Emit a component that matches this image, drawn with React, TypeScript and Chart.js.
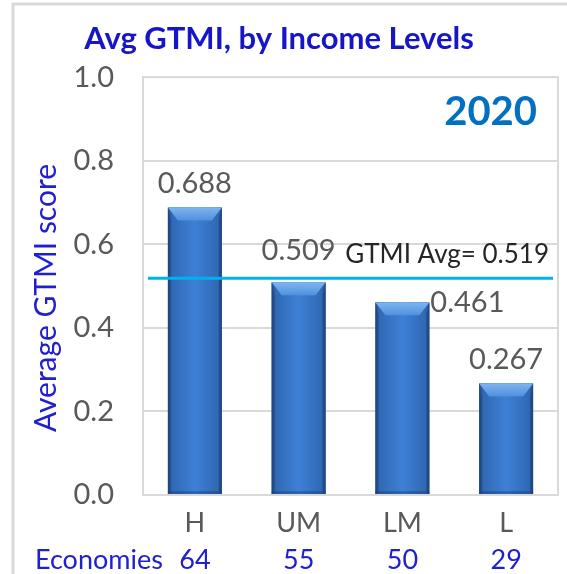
import React, { useEffect, useRef } from "react";
import { Chart, registerables } from "chart.js";

Chart.register(...registerables);

const categories = ["H", "UM", "LM", "L"];
const avgScores = [0.688, 0.509, 0.461, 0.267];
const economies = [64, 55, 50, 29];
const overallAvg = 0.519;
const yearLabel = "2020";
const yTicks = [0.0, 0.2, 0.4, 0.6, 0.8, 1.0];

const FONT = "Lato, 'Open Sans', sans-serif";
const GRAY = "#595959";
const BLUE_TEXT = "#2020d0";

const decorPlugin = {
  id: "decor",
  beforeDraw(chart: any) {
    const { ctx } = chart;
    ctx.save();
    ctx.fillStyle = "#ffffff";
    ctx.fillRect(0, 0, chart.width, chart.height);
    ctx.strokeStyle = "#d9d9d9";
    ctx.lineWidth = 3;
    ctx.beginPath();
    ctx.moveTo(13, chart.height);
    ctx.lineTo(13, 4);
    ctx.lineTo(chart.width, 4);
    ctx.stroke();
    ctx.restore();
  },
  beforeDatasetsDraw(chart: any) {
    const { ctx, chartArea } = chart;
    ctx.save();
    ctx.strokeStyle = "#d9d9d9";
    ctx.lineWidth = 2;
    ctx.strokeRect(chartArea.left, chartArea.top, chartArea.right - chartArea.left, chartArea.bottom - chartArea.top);
    ctx.restore();
  },
  afterDatasetsDraw(chart: any) {
    const { ctx, chartArea } = chart;
    const meta = chart.getDatasetMeta(0);
    const yScale = chart.scales.y;
    ctx.save();
    meta.data.forEach((bar: any, i: number) => {
      const { x, y, width, base } = bar.getProps(["x", "y", "width", "base"], true);
      const l = x - width / 2;
      const r = x + width / 2;
      const bx = Math.min(10, width * 0.19);
      const by = Math.min(13, width * 0.24);
      const g = ctx.createLinearGradient(l, 0, r, 0);
      g.addColorStop(0, "#24528f");
      g.addColorStop(0.08, "#3169b4");
      g.addColorStop(0.5, "#3d80d6");
      g.addColorStop(0.92, "#3169b4");
      g.addColorStop(1, "#24528f");
      ctx.fillStyle = g;
      ctx.fillRect(l, y, width, base - y);
      // top bevel
      const tg = ctx.createLinearGradient(0, y, 0, y + by);
      tg.addColorStop(0, "#7fb5f0");
      tg.addColorStop(1, "#4f90de");
      ctx.fillStyle = tg;
      ctx.beginPath();
      ctx.moveTo(l, y);
      ctx.lineTo(r, y);
      ctx.lineTo(r - bx, y + by);
      ctx.lineTo(l + bx, y + by);
      ctx.closePath();
      ctx.fill();
      // side bevels
      ctx.fillStyle = "rgba(20,50,100,0.35)";
      ctx.beginPath();
      ctx.moveTo(l, y);
      ctx.lineTo(l + 3, y + by);
      ctx.lineTo(l + 3, base - 3);
      ctx.lineTo(l, base);
      ctx.closePath();
      ctx.fill();
      ctx.beginPath();
      ctx.moveTo(r, y);
      ctx.lineTo(r - 3, y + by);
      ctx.lineTo(r - 3, base - 3);
      ctx.lineTo(r, base);
      ctx.closePath();
      ctx.fill();
      ctx.fillRect(l, base - 3, width, 3);

      // value labels
      ctx.font = `29px ${FONT}`;
      ctx.fillStyle = GRAY;
      const txt = avgScores[i].toFixed(3);
      if (i === 2) {
        ctx.textAlign = "left";
        ctx.textBaseline = "middle";
        ctx.fillText(txt, r + 1, y);
      } else if (i === 1) {
        ctx.textAlign = "center";
        ctx.textBaseline = "middle";
        ctx.fillText(txt, x, y - 32);
      } else {
        ctx.textAlign = "center";
        ctx.textBaseline = "middle";
        ctx.fillText(txt, x, y - 24);
      }
    });

    // average line
    const ay = yScale.getPixelForValue(overallAvg);
    ctx.strokeStyle = "#00b0f0";
    ctx.lineWidth = 3;
    ctx.beginPath();
    ctx.moveTo(chartArea.left + 5, ay);
    ctx.lineTo(chartArea.right - 5, ay);
    ctx.stroke();
    ctx.font = `26px ${FONT}`;
    ctx.fillStyle = "#262626";
    ctx.textAlign = "right";
    ctx.textBaseline = "middle";
    ctx.fillText(`GTMI Avg= ${overallAvg.toFixed(3)}`, chartArea.right - 9, ay - 24);

    // year
    ctx.font = `bold 40px ${FONT}`;
    ctx.fillStyle = "#0070c0";
    ctx.textAlign = "right";
    ctx.fillText(yearLabel, chartArea.right - 21, 112);
    ctx.restore();
  },
  afterDraw(chart: any) {
    const { ctx } = chart;
    const xScale = chart.scales.x;
    ctx.save();
    ctx.font = `27px ${FONT}`;
    ctx.fillStyle = BLUE_TEXT;
    ctx.textBaseline = "middle";
    ctx.textAlign = "left";
    ctx.fillText("Economies", 35, 560);
    ctx.textAlign = "center";
    economies.forEach((n, i) => {
      ctx.fillText(String(n), xScale.getPixelForValue(i), 560);
    });
    // y axis title
    ctx.translate(46, 298);
    ctx.rotate(-Math.PI / 2);
    ctx.font = `30px ${FONT}`;
    ctx.fillText("Average GTMI score", 0, 0);
    ctx.restore();
  },
};

export default function App() {
  const ref = useRef<HTMLCanvasElement | null>(null);
  useEffect(() => {
    if (!ref.current) return;
    const chart = new Chart(ref.current, {
      type: "bar",
      data: {
        labels: categories,
        datasets: [
          {
            data: avgScores,
            backgroundColor: "#3c7dcf",
            barPercentage: 0.52,
            categoryPercentage: 1,
          },
        ],
      },
      options: {
        animation: false,
        responsive: true,
        maintainAspectRatio: false,
        layout: { padding: { left: 0, right: 9, top: 0, bottom: 0 } },
        plugins: {
          legend: { display: false },
          tooltip: { enabled: false },
          title: {
            display: true,
            text: "Avg GTMI, by Income Levels",
            color: "#1616c8",
            font: { family: FONT, size: 31, weight: "bold" },
            padding: { top: 20, bottom: 20 },
            align: "center",
          },
        },
        scales: {
          x: {
            grid: { display: false, drawTicks: false },
            border: { display: false },
            ticks: { color: GRAY, font: { family: FONT, size: 27 }, padding: 12 },
            afterFit: (s: any) => {
              s.height = 79;
            },
          },
          y: {
            min: 0,
            max: 1,
            afterBuildTicks: (s: any) => {
              s.ticks = yTicks.map((v) => ({ value: v }));
            },
            grid: { color: "#d9d9d9", lineWidth: 2, drawTicks: false },
            border: { display: true, color: "#d9d9d9", width: 2 },
            ticks: {
              color: GRAY,
              font: { family: FONT, size: 29 },
              padding: 29,
              callback: (v: any) => Number(v).toFixed(1),
            },
            afterFit: (s: any) => {
              s.width = 143;
            },
          },
        },
      },
      plugins: [decorPlugin],
    });
    return () => chart.destroy();
  }, []);
  return (
    <div style={{ position: "fixed", left: 0, top: 0, width: 567, height: 574 }}>
      <canvas ref={ref} />
    </div>
  );
}
